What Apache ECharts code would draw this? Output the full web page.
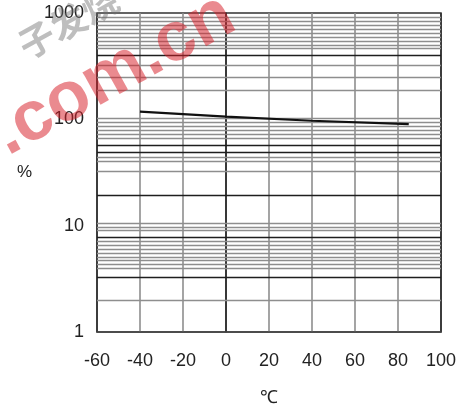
<!DOCTYPE html>
<html>
<head>
<meta charset="utf-8">
<script src="https://cdn.jsdelivr.net/npm/echarts@6/dist/echarts.min.js"></script>
<style>
html,body{margin:0;padding:0;background:#fff;}
#chart{width:459px;height:408px;}
</style>
</head>
<body>
<div id="chart"></div>
<script>
// Data
var tempX = [-40, 0, 40, 85];
var percentY = [118, 106, 97, 90];
var xTicks = [-60, -40, -20, 0, 20, 40, 60, 80, 100];
var yTickLabels = [1, 10, 100, 1000];
// horizontal rule lines of the chart paper (values in %)
var darkRuleValues = [403, 57.4, 49.3, 19.4, 7.82, 3.29];
var lightRuleValues = [917, 841, 771, 707, 649, 595, 546, 500, 469, 324, 250, 189,
  103, 94.4, 86.6, 79.4, 72.8, 66.8, 44.2, 40.6, 32.7,
  10.6, 9.7, 9.1, 7.17, 6.58, 6.03, 5.53, 5.07, 4.75, 4.36, 4.0, 2.0];

var FONT = 'Liberation Sans, Arial, Helvetica, sans-serif';
var chart = echarts.init(document.getElementById('chart'));

var ruleData = [];
lightRuleValues.forEach(function (v) {
  ruleData.push({ yAxis: v, lineStyle: { color: '#8e8e8e', width: 1.4, type: 'solid' } });
});
darkRuleValues.forEach(function (v) {
  ruleData.push({ yAxis: v, lineStyle: { color: '#1e1e1e', width: 1.4, type: 'solid' } });
});

var splitColors = xTicks.map(function (t) {
  if (t === 0) return '#1a1a1a';
  if (t === -60 || t === 100) return '#333';
  return '#8e8e8e';
});

chart.setOption({
  animation: false,
  backgroundColor: '#fff',
  grid: {
    left: 97, right: 18, top: 13, bottom: 76,
    outerBoundsMode: 'none',
    containLabel: false,
    show: true, borderColor: '#333', borderWidth: 1.5, backgroundColor: 'transparent'
  },
  xAxis: {
    type: 'value',
    min: -60, max: 100, interval: 20,
    name: '℃',
    nameLocation: 'middle',
    nameGap: 57,
    nameTextStyle: { fontSize: 18, color: '#222', fontFamily: FONT },
    axisLine: { show: true, lineStyle: { color: '#444', width: 1.5 } },
    axisTick: { show: false },
    axisLabel: { fontSize: 18, color: '#222', fontFamily: FONT, margin: 20 },
    splitLine: { show: true, lineStyle: { color: splitColors, width: 1.6 } }
  },
  yAxis: {
    type: 'log',
    logBase: 10,
    min: yTickLabels[0],
    max: yTickLabels[yTickLabels.length - 1],
    axisLine: { show: true, lineStyle: { color: '#333', width: 1.5 } },
    axisTick: { show: false },
    axisLabel: {
      fontSize: 18, color: '#222', fontFamily: FONT, margin: 13,
      formatter: function (v) { return String(Math.round(v)); }
    },
    splitLine: { show: false }
  },
  graphic: [
    {
      type: 'text', left: 17, top: 164, z: 10,
      style: { text: '%', fontSize: 17, fill: '#222', fontFamily: FONT }
    },
    {
      type: 'text', x: 114, y: 75, rotation: 29 * Math.PI / 180, z: 100,
      style: {
        text: '.com.cn', fontSize: 70, fontWeight: 'bold', fontFamily: FONT,
        fill: 'rgba(215,30,40,0.52)', align: 'center', verticalAlign: 'middle'
      }
    },
    {
      type: 'text', x: 68, y: 22, rotation: 29 * Math.PI / 180, z: 100,
      style: {
        text: '子发烧', fontSize: 36, fontWeight: 'bold', fontFamily: 'Noto Sans CJK SC',
        fill: 'rgba(110,110,110,0.45)', align: 'center', verticalAlign: 'middle'
      }
    }
  ],
  series: [
    {
      type: 'line',
      data: [],
      silent: true,
      z: 1,
      markLine: {
        silent: true,
        symbol: 'none',
        animation: false,
        label: { show: false },
        data: ruleData
      }
    },
    {
      type: 'line',
      z: 5,
      data: tempX.map(function (x, i) { return [x, percentY[i]]; }),
      showSymbol: false,
      symbol: 'none',
      lineStyle: { color: '#111', width: 2.2 }
    }
  ]
});
</script>
</body>
</html>
